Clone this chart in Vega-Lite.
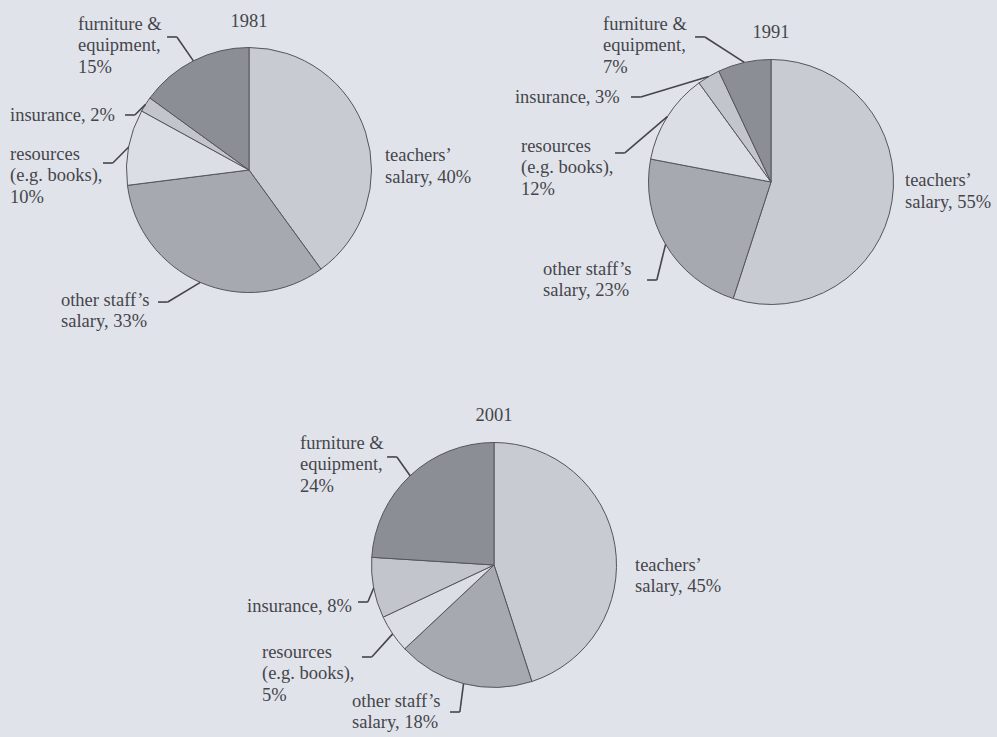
{
  "$schema": "https://vega.github.io/schema/vega-lite/v6.json",
  "width": 997,
  "height": 737,
  "autosize": {"type": "fit", "contains": "padding"},
  "padding": 0,
  "background": "#e1e3ea",
  "config": {
    "view": {"stroke": null},
    "text": {"font": "Liberation Serif", "fontSize": 18.5, "color": "#45464b", "lineHeight": 21.5}
  },
  "datasets": {
    "slices": [
      {"year": 1981, "category": "teachers' salary", "value": 40, "order": 1},
      {"year": 1981, "category": "other staff's salary", "value": 33, "order": 2},
      {"year": 1981, "category": "resources", "value": 10, "order": 3},
      {"year": 1981, "category": "insurance", "value": 2, "order": 4},
      {"year": 1981, "category": "furniture & equipment", "value": 15, "order": 5},
      {"year": 1991, "category": "teachers' salary", "value": 55, "order": 1},
      {"year": 1991, "category": "other staff's salary", "value": 23, "order": 2},
      {"year": 1991, "category": "resources", "value": 12, "order": 3},
      {"year": 1991, "category": "insurance", "value": 3, "order": 4},
      {"year": 1991, "category": "furniture & equipment", "value": 7, "order": 5},
      {"year": 2001, "category": "teachers' salary", "value": 45, "order": 1},
      {"year": 2001, "category": "other staff's salary", "value": 18, "order": 2},
      {"year": 2001, "category": "resources", "value": 5, "order": 3},
      {"year": 2001, "category": "insurance", "value": 8, "order": 4},
      {"year": 2001, "category": "furniture & equipment", "value": 24, "order": 5}
    ],
    "labels1981": [
      {"category": "teachers' salary", "text": ["teachers’", "salary, 40%"], "tx": 1.110, "ty": 0.073},
      {"category": "other staff's salary", "text": ["other staff’s", "salary, 33%"], "tx": -1.535, "ty": -1.110, "ax": -0.743, "ay": -1.078},
      {"category": "resources", "text": ["resources", "(e.g. books),", "10%"], "tx": -1.951, "ty": 0.082, "ax": -1.192, "ay": 0.057},
      {"category": "insurance", "text": ["insurance, 2%"], "tx": -1.951, "ty": 0.400, "ax": -1.012, "ay": 0.449},
      {"category": "furniture & equipment", "text": ["furniture &", "equipment,", "15%"], "tx": -1.396, "ty": 1.143, "ax": -0.669, "ay": 1.086}
    ],
    "labels1991": [
      {"category": "teachers' salary", "text": ["teachers’", "salary, 55%"], "tx": 1.094, "ty": -0.033},
      {"category": "other staff's salary", "text": ["other staff’s", "salary, 23%"], "tx": -1.861, "ty": -0.759, "ax": -1.012, "ay": -0.800},
      {"category": "resources", "text": ["resources", "(e.g. books),", "12%"], "tx": -2.041, "ty": 0.245, "ax": -1.273, "ay": 0.237},
      {"category": "insurance", "text": ["insurance, 3%"], "tx": -2.090, "ty": 0.645, "ax": -1.143, "ay": 0.694},
      {"category": "furniture & equipment", "text": ["furniture &", "equipment,", "7%"], "tx": -1.371, "ty": 1.241, "ax": -0.620, "ay": 1.184}
    ],
    "labels2001": [
      {"category": "teachers' salary", "text": ["teachers’", "salary, 45%"], "tx": 1.151, "ty": -0.049},
      {"category": "other staff's salary", "text": ["other staff’s", "salary, 18%"], "tx": -1.159, "ty": -1.159, "ax": -0.359, "ay": -1.200},
      {"category": "resources", "text": ["resources", "(e.g. books),", "5%"], "tx": -1.894, "ty": -0.759, "ax": -1.078, "ay": -0.751},
      {"category": "insurance", "text": ["insurance, 8%"], "tx": -2.016, "ty": -0.384, "ax": -1.110, "ay": -0.302},
      {"category": "furniture & equipment", "text": ["furniture &", "equipment,", "24%"], "tx": -1.584, "ty": 0.947, "ax": -0.873, "ay": 0.882}
    ]
  },
  "layer": [
    {
      "layer": [
        {
          "data": {"name": "slices"},
          "transform": [
            {"filter": "datum.year == 1981"},
            {"stack": "value", "groupby": ["year"], "sort": [{"field": "order", "order": "ascending"}], "as": ["v0", "v1"]}
          ],
          "mark": {"type": "arc", "outerRadius": 122.5, "stroke": "#55565b", "strokeWidth": 1},
          "encoding": {
            "x": {"datum": 0, "type": "quantitative", "scale": {"domain": [-2.0327, 6.1061], "nice": false, "zero": false}, "axis": null},
            "y": {"datum": 0, "type": "quantitative", "scale": {"domain": [-4.6286, 1.3878], "nice": false, "zero": false}, "axis": null},
            "theta": {"field": "v0", "type": "quantitative", "scale": {"domain": [0, 100], "range": [0, 6.283185307179586]}},
            "theta2": {"field": "v1"},
            "color": {"field": "category", "type": "nominal", "legend": null,
              "scale": {"domain": ["teachers' salary", "other staff's salary", "resources", "insurance", "furniture & equipment"],
                        "range": ["#c9cbd2", "#a7a9b0", "#dcdee5", "#c3c5cc", "#8c8e95"]}}
          }
        },
        {
          "data": {"name": "slices"},
          "transform": [
            {"filter": "datum.year == 1981"},
            {"stack": "value", "groupby": ["year"], "sort": [{"field": "order", "order": "ascending"}], "as": ["v0", "v1"]},
            {"lookup": "category", "from": {"data": {"name": "labels1981"}, "key": "category", "fields": ["ax", "ay"]}},
            {"filter": "isValid(datum.ax)"},
            {"calculate": "PI * (datum.v0 + datum.v1) / 100", "as": "mid"},
            {"calculate": "sin(datum.mid)", "as": "ex"},
            {"calculate": "cos(datum.mid)", "as": "ey"},
            {"calculate": "datum.ax + (datum.ex > datum.ax ? 0.08 : -0.08)", "as": "bx"}
          ],
          "layer": [
            {
              "mark": {"type": "rule", "stroke": "#45464b", "strokeWidth": 1.6},
              "encoding": {
                "x": {"field": "ax", "type": "quantitative", "scale": {"domain": [-2.0327, 6.1061], "nice": false, "zero": false}, "axis": null},
                "x2": {"field": "bx"},
                "y": {"field": "ay", "type": "quantitative", "scale": {"domain": [-4.6286, 1.3878], "nice": false, "zero": false}, "axis": null},
                "y2": {"field": "ay"}
              }
            },
            {
              "mark": {"type": "rule", "stroke": "#45464b", "strokeWidth": 1.6},
              "encoding": {
                "x": {"field": "bx", "type": "quantitative", "scale": {"domain": [-2.0327, 6.1061], "nice": false, "zero": false}, "axis": null},
                "x2": {"field": "ex"},
                "y": {"field": "ay", "type": "quantitative", "scale": {"domain": [-4.6286, 1.3878], "nice": false, "zero": false}, "axis": null},
                "y2": {"field": "ey"}
              }
            }
          ]
        },
        {
          "data": {"name": "labels1981"},
          "mark": {"type": "text", "align": "left", "baseline": "alphabetic"},
          "encoding": {
            "x": {"field": "tx", "type": "quantitative", "scale": {"domain": [-2.0327, 6.1061], "nice": false, "zero": false}, "axis": null},
            "y": {"field": "ty", "type": "quantitative", "scale": {"domain": [-4.6286, 1.3878], "nice": false, "zero": false}, "axis": null},
            "text": {"field": "text"}
          }
        },
        {
          "data": {"name": "slices"},
          "transform": [{"filter": "datum.year == 1981 && datum.order == 1"}],
          "mark": {"type": "text", "align": "center", "baseline": "alphabetic", "dy": -21},
          "encoding": {
            "x": {"datum": 0, "type": "quantitative", "scale": {"domain": [-2.0327, 6.1061], "nice": false, "zero": false}, "axis": null},
            "y": {"datum": 1, "type": "quantitative", "scale": {"domain": [-4.6286, 1.3878], "nice": false, "zero": false}, "axis": null},
            "text": {"field": "year", "type": "nominal"}
          }
        }
      ]
    },
    {
      "layer": [
        {
          "data": {"name": "slices"},
          "transform": [
            {"filter": "datum.year == 1991"},
            {"stack": "value", "groupby": ["year"], "sort": [{"field": "order", "order": "ascending"}], "as": ["v0", "v1"]}
          ],
          "mark": {"type": "arc", "outerRadius": 122.5, "stroke": "#55565b", "strokeWidth": 1},
          "encoding": {
            "x": {"datum": 0, "type": "quantitative", "scale": {"domain": [-6.2939, 1.8449], "nice": false, "zero": false}, "axis": null},
            "y": {"datum": 0, "type": "quantitative", "scale": {"domain": [-4.5306, 1.4857], "nice": false, "zero": false}, "axis": null},
            "theta": {"field": "v0", "type": "quantitative", "scale": {"domain": [0, 100], "range": [0, 6.283185307179586]}},
            "theta2": {"field": "v1"},
            "color": {"field": "category", "type": "nominal", "legend": null,
              "scale": {"domain": ["teachers' salary", "other staff's salary", "resources", "insurance", "furniture & equipment"],
                        "range": ["#c9cbd2", "#a7a9b0", "#dcdee5", "#c3c5cc", "#8c8e95"]}}
          }
        },
        {
          "data": {"name": "slices"},
          "transform": [
            {"filter": "datum.year == 1991"},
            {"stack": "value", "groupby": ["year"], "sort": [{"field": "order", "order": "ascending"}], "as": ["v0", "v1"]},
            {"lookup": "category", "from": {"data": {"name": "labels1991"}, "key": "category", "fields": ["ax", "ay"]}},
            {"filter": "isValid(datum.ax)"},
            {"calculate": "PI * (datum.v0 + datum.v1) / 100", "as": "mid"},
            {"calculate": "sin(datum.mid)", "as": "ex"},
            {"calculate": "cos(datum.mid)", "as": "ey"},
            {"calculate": "datum.ax + (datum.ex > datum.ax ? 0.08 : -0.08)", "as": "bx"}
          ],
          "layer": [
            {
              "mark": {"type": "rule", "stroke": "#45464b", "strokeWidth": 1.6},
              "encoding": {
                "x": {"field": "ax", "type": "quantitative", "scale": {"domain": [-6.2939, 1.8449], "nice": false, "zero": false}, "axis": null},
                "x2": {"field": "bx"},
                "y": {"field": "ay", "type": "quantitative", "scale": {"domain": [-4.5306, 1.4857], "nice": false, "zero": false}, "axis": null},
                "y2": {"field": "ay"}
              }
            },
            {
              "mark": {"type": "rule", "stroke": "#45464b", "strokeWidth": 1.6},
              "encoding": {
                "x": {"field": "bx", "type": "quantitative", "scale": {"domain": [-6.2939, 1.8449], "nice": false, "zero": false}, "axis": null},
                "x2": {"field": "ex"},
                "y": {"field": "ay", "type": "quantitative", "scale": {"domain": [-4.5306, 1.4857], "nice": false, "zero": false}, "axis": null},
                "y2": {"field": "ey"}
              }
            }
          ]
        },
        {
          "data": {"name": "labels1991"},
          "mark": {"type": "text", "align": "left", "baseline": "alphabetic"},
          "encoding": {
            "x": {"field": "tx", "type": "quantitative", "scale": {"domain": [-6.2939, 1.8449], "nice": false, "zero": false}, "axis": null},
            "y": {"field": "ty", "type": "quantitative", "scale": {"domain": [-4.5306, 1.4857], "nice": false, "zero": false}, "axis": null},
            "text": {"field": "text"}
          }
        },
        {
          "data": {"name": "slices"},
          "transform": [{"filter": "datum.year == 1991 && datum.order == 1"}],
          "mark": {"type": "text", "align": "center", "baseline": "alphabetic", "dy": -21},
          "encoding": {
            "x": {"datum": 0, "type": "quantitative", "scale": {"domain": [-6.2939, 1.8449], "nice": false, "zero": false}, "axis": null},
            "y": {"datum": 1, "type": "quantitative", "scale": {"domain": [-4.5306, 1.4857], "nice": false, "zero": false}, "axis": null},
            "text": {"field": "year", "type": "nominal"}
          }
        }
      ]
    },
    {
      "layer": [
        {
          "data": {"name": "slices"},
          "transform": [
            {"filter": "datum.year == 2001"},
            {"stack": "value", "groupby": ["year"], "sort": [{"field": "order", "order": "ascending"}], "as": ["v0", "v1"]}
          ],
          "mark": {"type": "arc", "outerRadius": 122.5, "stroke": "#55565b", "strokeWidth": 1},
          "encoding": {
            "x": {"datum": 0, "type": "quantitative", "scale": {"domain": [-4.0327, 4.1061], "nice": false, "zero": false}, "axis": null},
            "y": {"datum": 0, "type": "quantitative", "scale": {"domain": [-1.4041, 4.6122], "nice": false, "zero": false}, "axis": null},
            "theta": {"field": "v0", "type": "quantitative", "scale": {"domain": [0, 100], "range": [0, 6.283185307179586]}},
            "theta2": {"field": "v1"},
            "color": {"field": "category", "type": "nominal", "legend": null,
              "scale": {"domain": ["teachers' salary", "other staff's salary", "resources", "insurance", "furniture & equipment"],
                        "range": ["#c9cbd2", "#a7a9b0", "#dcdee5", "#c3c5cc", "#8c8e95"]}}
          }
        },
        {
          "data": {"name": "slices"},
          "transform": [
            {"filter": "datum.year == 2001"},
            {"stack": "value", "groupby": ["year"], "sort": [{"field": "order", "order": "ascending"}], "as": ["v0", "v1"]},
            {"lookup": "category", "from": {"data": {"name": "labels2001"}, "key": "category", "fields": ["ax", "ay"]}},
            {"filter": "isValid(datum.ax)"},
            {"calculate": "PI * (datum.v0 + datum.v1) / 100", "as": "mid"},
            {"calculate": "sin(datum.mid)", "as": "ex"},
            {"calculate": "cos(datum.mid)", "as": "ey"},
            {"calculate": "datum.ax + (datum.ex > datum.ax ? 0.08 : -0.08)", "as": "bx"}
          ],
          "layer": [
            {
              "mark": {"type": "rule", "stroke": "#45464b", "strokeWidth": 1.6},
              "encoding": {
                "x": {"field": "ax", "type": "quantitative", "scale": {"domain": [-4.0327, 4.1061], "nice": false, "zero": false}, "axis": null},
                "x2": {"field": "bx"},
                "y": {"field": "ay", "type": "quantitative", "scale": {"domain": [-1.4041, 4.6122], "nice": false, "zero": false}, "axis": null},
                "y2": {"field": "ay"}
              }
            },
            {
              "mark": {"type": "rule", "stroke": "#45464b", "strokeWidth": 1.6},
              "encoding": {
                "x": {"field": "bx", "type": "quantitative", "scale": {"domain": [-4.0327, 4.1061], "nice": false, "zero": false}, "axis": null},
                "x2": {"field": "ex"},
                "y": {"field": "ay", "type": "quantitative", "scale": {"domain": [-1.4041, 4.6122], "nice": false, "zero": false}, "axis": null},
                "y2": {"field": "ey"}
              }
            }
          ]
        },
        {
          "data": {"name": "labels2001"},
          "mark": {"type": "text", "align": "left", "baseline": "alphabetic"},
          "encoding": {
            "x": {"field": "tx", "type": "quantitative", "scale": {"domain": [-4.0327, 4.1061], "nice": false, "zero": false}, "axis": null},
            "y": {"field": "ty", "type": "quantitative", "scale": {"domain": [-1.4041, 4.6122], "nice": false, "zero": false}, "axis": null},
            "text": {"field": "text"}
          }
        },
        {
          "data": {"name": "slices"},
          "transform": [{"filter": "datum.year == 2001 && datum.order == 1"}],
          "mark": {"type": "text", "align": "center", "baseline": "alphabetic", "dy": -21},
          "encoding": {
            "x": {"datum": 0, "type": "quantitative", "scale": {"domain": [-4.0327, 4.1061], "nice": false, "zero": false}, "axis": null},
            "y": {"datum": 1, "type": "quantitative", "scale": {"domain": [-1.4041, 4.6122], "nice": false, "zero": false}, "axis": null},
            "text": {"field": "year", "type": "nominal"}
          }
        }
      ]
    }
  ],
  "resolve": {"scale": {"x": "independent", "y": "independent"}}
}
